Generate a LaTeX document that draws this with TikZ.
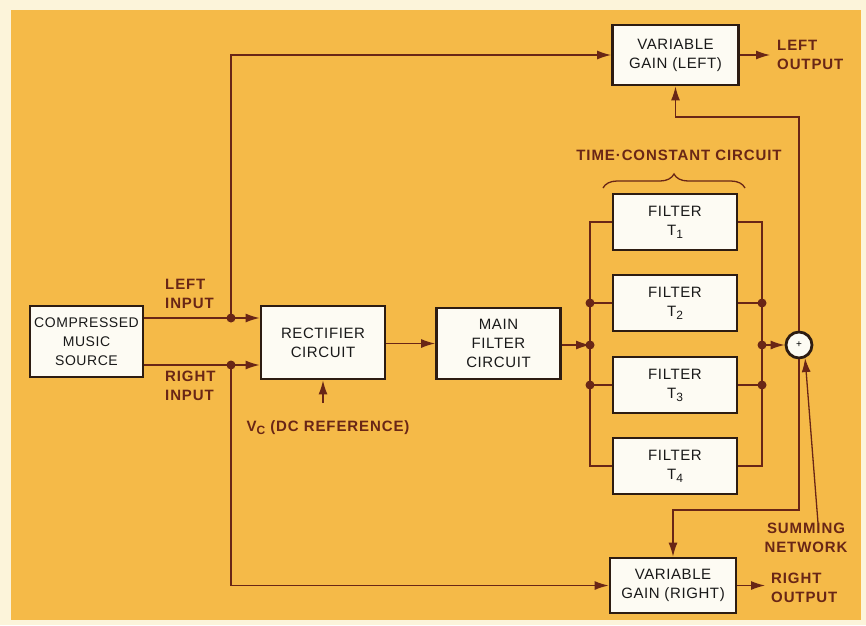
\documentclass[tikz,border=0pt]{standalone}
\usepackage{fontspec}
\setmainfont{Liberation Sans}[LetterSpace=6]
\newfontfamily\boxfont{Liberation Sans}[LetterSpace=4]
\usetikzlibrary{arrows.meta,decorations.pathreplacing}

\definecolor{pageorange}{RGB}{245,186,72}
\definecolor{paper}{RGB}{252,244,218}
\definecolor{ink}{RGB}{105,38,22}
\definecolor{boxline}{RGB}{45,28,18}
\definecolor{boxfill}{RGB}{253,251,243}

\newcommand{\tsub}[1]{\raisebox{-0.4ex}{\fontsize{12}{12}\selectfont #1}}

\tikzset{
  blockbox/.style={draw=boxline, line width=2.8pt, fill=boxfill, minimum width=124pt,
    minimum height=56pt, align=center, inner sep=2pt, text=black!90,
    font=\boxfont\fontsize{15}{19}\selectfont},
  wire/.style={draw=ink, line width=1.3pt},
  flow/.style={wire, -{Latex[length=14pt,width=9pt]}},
  lbl/.style={text=ink, font=\bfseries\fontsize{15}{19}\selectfont, align=left, inner sep=0pt},
  jdot/.style={circle, fill=ink, inner sep=0pt, minimum size=9pt},
}

\begin{document}
\begin{tikzpicture}[x=1pt,y=-1pt]
\useasboundingbox (0,0) rectangle (866,625);
\fill[paper] (0,0) rectangle (866,625);
\fill[pageorange] (11,10) rectangle (861,620);

% blocks
\node[blockbox, minimum width=113pt, minimum height=71pt, font=\boxfont\fontsize{14}{19}\selectfont] (src) at (86.5,341.5) {COMPRESSED\\MUSIC\\SOURCE};
\node[blockbox, minimum height=73pt] (rect) at (323,342.5) {RECTIFIER\\CIRCUIT};
\node[blockbox, minimum height=71pt] (mainf) at (498.5,343.5) {MAIN\\FILTER\\CIRCUIT};
\foreach \i/\y in {1/222,2/303,3/385,4/466}{
  \node[blockbox] (f\i) at (675,\y) {FILTER\\T\tsub{\i}};
}
\node[blockbox, minimum width=126pt, minimum height=60pt] (vgl) at (675.5,55) {VARIABLE\\GAIN (LEFT)};
\node[blockbox, minimum width=126pt, minimum height=55pt] (vgr) at (673,585.5) {VARIABLE\\GAIN (RIGHT)};
\node[circle, draw=boxline, line width=2.8pt, fill=boxfill, minimum size=26pt, inner sep=0pt] (sum) at (799,345) {\fontsize{10}{10}\selectfont +};

% labels
\node[lbl, anchor=west] (lin) at (165,294) {LEFT\\INPUT};
\node[lbl, anchor=west] (rin) at (165,386) {RIGHT\\INPUT};
\node[lbl] (vc) at (328,428) {V\tsub{C} (DC REFERENCE)};
\node[lbl] (tc) at (679,155) {TIME·CONSTANT CIRCUIT};
\node[lbl, anchor=west] (lout) at (777,55) {LEFT\\OUTPUT};
\node[lbl, anchor=west] (rout) at (771,588) {RIGHT\\OUTPUT};
\node[lbl, align=center] (snet) at (806,538) {SUMMING\\NETWORK};

% inputs
\coordinate (jl) at (231,318);
\coordinate (jr) at (231,365);
\draw[wire] (src.east |- jl) -- (jl);
\draw[wire] (src.east |- jr) -- (jr);
\draw[flow] (jl) -- (jl -| rect.west);
\draw[flow] (jr) -- (jr -| rect.west);
\draw[flow] (jl) |- (vgl.west);
\draw[flow] (jr) |- (vgr.west);
\node[jdot] at (jl) {};
\node[jdot] at (jr) {};
\coordinate (vcin) at (323,403);
\draw[flow] (vcin) -- (rect.south);

% filter bank
\coordinate (bl) at (590,345);
\coordinate (br) at (762,345);
\draw[flow] (rect.east |- mainf) -- (mainf.west);
\draw[flow] (mainf.east |- bl) -- (bl);
\draw[wire] (f1.west) -| (bl) |- (f4.west);
\draw[wire] (f1.east) -| (br) |- (f4.east);
\foreach \i in {2,3}{
  \draw[wire] (f\i.west) -- (f\i.west -| bl);
  \draw[wire] (f\i.east) -- (f\i.east -| br);
  \node[jdot] at (f\i.west -| bl) {};
  \node[jdot] at (f\i.east -| br) {};
}
\node[jdot] at (bl) {};
\node[jdot] at (br) {};
\draw[wire, decorate, decoration={brace, amplitude=14pt}] (603,188) -- (745,188);
\draw[flow] (br) -- (sum.west);

% feedback and outputs
\coordinate (fbl) at (799,117);
\coordinate (fbr) at (799,510);
\draw[flow] (sum.north) -- (fbl) -| (vgl.south);
\draw[flow] (sum.south) -- (fbr) -| (vgr.north);
\draw[flow] ([xshift=12pt]snet.north) -- (sum.-65);
\draw[flow, shorten >=7pt] (vgl.east) -- (lout.west);
\draw[flow, shorten >=6pt] (vgr.east) -- (vgr.east -| rout.west);
\end{tikzpicture}
\end{document}
